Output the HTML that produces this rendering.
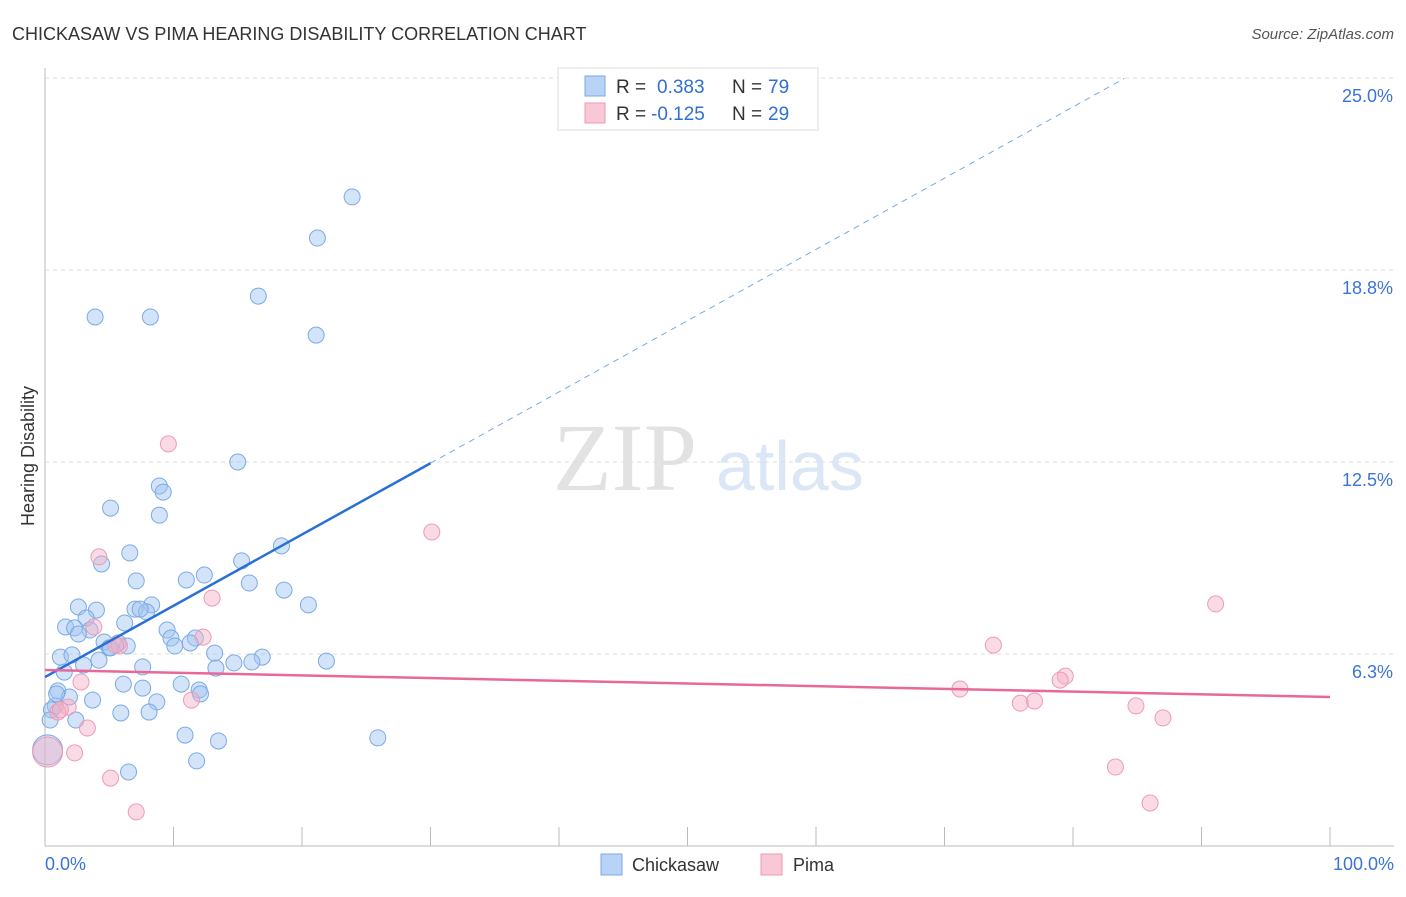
<!DOCTYPE html>
<html><head><meta charset="utf-8"><style>
body{margin:0;background:#fff;font-family:"Liberation Sans",sans-serif;}
</style></head><body>
<svg id="chart" width="1406" height="892" xmlns="http://www.w3.org/2000/svg" font-family="Liberation Sans, sans-serif">
<text x="12" y="40" font-size="18" fill="#333">CHICKASAW VS PIMA HEARING DISABILITY CORRELATION CHART</text>
<text x="1394" y="39" font-size="15" fill="#555" font-style="italic" text-anchor="end">Source: ZipAtlas.com</text>
<text x="553" y="490" font-size="96" font-family="Liberation Serif, serif" fill="#e2e2e2">ZIP</text>
<text x="716" y="490" font-size="70" fill="#dbe7f6">atlas</text>
<text transform="translate(34,456) rotate(-90)" font-size="18" fill="#333" text-anchor="middle">Hearing Disability</text>
<g id="grid"></g><g id="axes"></g><g id="marks"></g>
<g>
<rect x="558" y="68" width="260" height="62" fill="#fff" stroke="#ddd"/>
<rect x="585" y="76" width="20" height="20" fill="#b8d3f5" stroke="#7aaae6"/>
<text x="616" y="93" font-size="19" fill="#333">R = </text><text x="657" y="93" font-size="19" fill="#2f6fd6">0.383</text>
<text x="732" y="93" font-size="19" fill="#333">N = </text><text x="768" y="93" font-size="19" fill="#2f6fd6">79</text>
<rect x="585" y="103" width="20" height="20" fill="#f8c8d7" stroke="#ee9ab5"/>
<text x="616" y="120" font-size="19" fill="#333">R = </text><text x="651" y="120" font-size="19" fill="#2f6fd6">-0.125</text>
<text x="732" y="120" font-size="19" fill="#333">N = </text><text x="768" y="120" font-size="19" fill="#2f6fd6">29</text>
</g>
<g>
<rect x="601" y="854" width="21" height="21" fill="#b8d3f5" stroke="#7aaae6"/>
<text x="632" y="871" font-size="18" fill="#333">Chickasaw</text>
<rect x="761" y="854" width="21" height="21" fill="#f8c8d7" stroke="#ee9ab5"/>
<text x="793" y="871" font-size="18" fill="#333">Pima</text>
</g>
</svg>
<script>
const yTicks=[6.25,12.5,18.75,25];
const yTickLabels=["6.3%","12.5%","18.8%","25.0%"];
const xTickLabels=["0.0%","100.0%"];
const blueX=[23.9,21.2,16.6,3.9,8.2,21.1,15.0,8.9,9.2,5.1,8.9,6.6,18.4,15.3,4.4,7.1,12.4,11.0,15.9,18.6,2.6,4.0,8.3,7.0,7.9,20.5,3.2,1.6,2.3,3.5,2.6,9.5,6.2,9.8,11.7,4.6,5.7,6.4,5.0,10.1,11.3,1.2,2.1,4.2,13.2,16.9,14.7,16.1,21.9,7.6,3.0,13.3,1.5,6.1,10.6,1.0,7.6,12.0,12.1,1.9,3.7,8.7,0.8,0.5,5.9,8.1,2.4,10.9,13.5,25.9,6.5,11.8,0.9,0.4,5.1,7.4,0.2];
const blueY=[21.13,19.79,17.90,17.22,17.22,16.63,12.50,11.72,11.52,11.00,10.77,9.54,9.77,9.28,9.18,8.63,8.82,8.66,8.56,8.33,7.78,7.68,7.85,7.71,7.62,7.85,7.42,7.13,7.10,7.03,6.90,7.03,7.26,6.77,6.77,6.64,6.61,6.51,6.45,6.51,6.61,6.15,6.22,6.05,6.28,6.15,5.96,5.99,6.02,5.83,5.89,5.79,5.66,5.27,5.27,5.05,5.14,5.08,4.95,4.85,4.75,4.69,4.56,4.43,4.33,4.36,4.10,3.61,3.42,3.52,2.41,2.77,4.95,4.10,6.45,7.71,3.13];
const pinkX=[9.6,30.1,4.2,13.0,91.1,3.8,12.3,73.8,5.8,79.4,79.0,2.8,71.2,11.4,75.9,77.0,1.8,1.0,84.9,3.3,87.0,2.3,83.3,5.1,86.0,7.1,5.5,1.2,0.2];
const pinkY=[13.09,10.22,9.41,8.07,7.88,7.13,6.80,6.54,6.51,5.53,5.40,5.34,5.11,4.75,4.65,4.72,4.52,4.36,4.56,3.84,4.17,3.03,2.57,2.21,1.40,1.11,6.54,4.43,3.06];
const blueTrend=[5.5,0.232];
const pinkTrend=[5.73,-0.0088];
const NS="http://www.w3.org/2000/svg";
const sx=v=>45+v*12.85, sy=v=>846-v*30.72;
function mk(p,t,a){const e=document.createElementNS(NS,t);for(const k in a)e.setAttribute(k,a[k]);document.getElementById(p).appendChild(e);return e;}
yTicks.forEach((t,i)=>{
 const g=mk('grid','line',{x1:45,x2:1394,y1:sy(t),y2:sy(t),stroke:'#ddd','stroke-dasharray':'4,4'});
 
 
 const l=mk('grid','text',{x:1393,y:sy(t)+24,'font-size':18,fill:'#3a74d8','text-anchor':'end'});
 l.textContent=yTickLabels[i];
 
 
});
const ya=mk('axes','line',{x1:45,x2:45,y1:68,y2:846,stroke:'#bbb'});


const xa=mk('axes','line',{x1:45,x2:1394,y1:846,y2:846,stroke:'#bbb'});


for(let i=0;i<=10;i++){
 const t=mk('axes','line',{x1:sx(i*10),x2:sx(i*10),y1:827,y2:846,stroke:'#bbb'});
 
 
}
[[0,'start',45],[100,'end',1394]].forEach((d,i)=>{
 const l=mk('axes','text',{x:d[2],y:870,'font-size':18,fill:'#3a74d8','text-anchor':d[1]});
 l.textContent=xTickLabels[i];
 
 
});
function pts(X,Y,fill,stroke,name){
 X.forEach((x,i)=>{
  const big=(i===X.length-1&&x<0.5);
  const c=mk('marks','circle',{cx:sx(x),cy:sy(Y[i]),r:big?15:8,fill:fill,stroke:stroke,'stroke-width':1});
  
  
 });
}
pts(blueX,blueY,'rgba(160,196,240,0.45)','#7aaae6','chickasaw-point');
pts(pinkX,pinkY,'rgba(245,175,198,0.45)','#ee9ab5','pima-point');
const bt=x=>blueTrend[0]+blueTrend[1]*x;
const b1=mk('marks','line',{x1:sx(0),y1:sy(bt(0)),x2:sx(30),y2:sy(bt(30)),stroke:'#2a6fd6','stroke-width':2.5});


const b2=mk('marks','line',{x1:sx(30),y1:sy(bt(30)),x2:sx(84),y2:sy(bt(84)),stroke:'#7aaae6','stroke-width':1,'stroke-dasharray':'6,5'});


const pt=x=>pinkTrend[0]+pinkTrend[1]*x;
const p1=mk('marks','line',{x1:sx(0),y1:sy(pt(0)),x2:sx(100),y2:sy(pt(100)),stroke:'#e8689a','stroke-width':2.5});


</script>
</body></html>
